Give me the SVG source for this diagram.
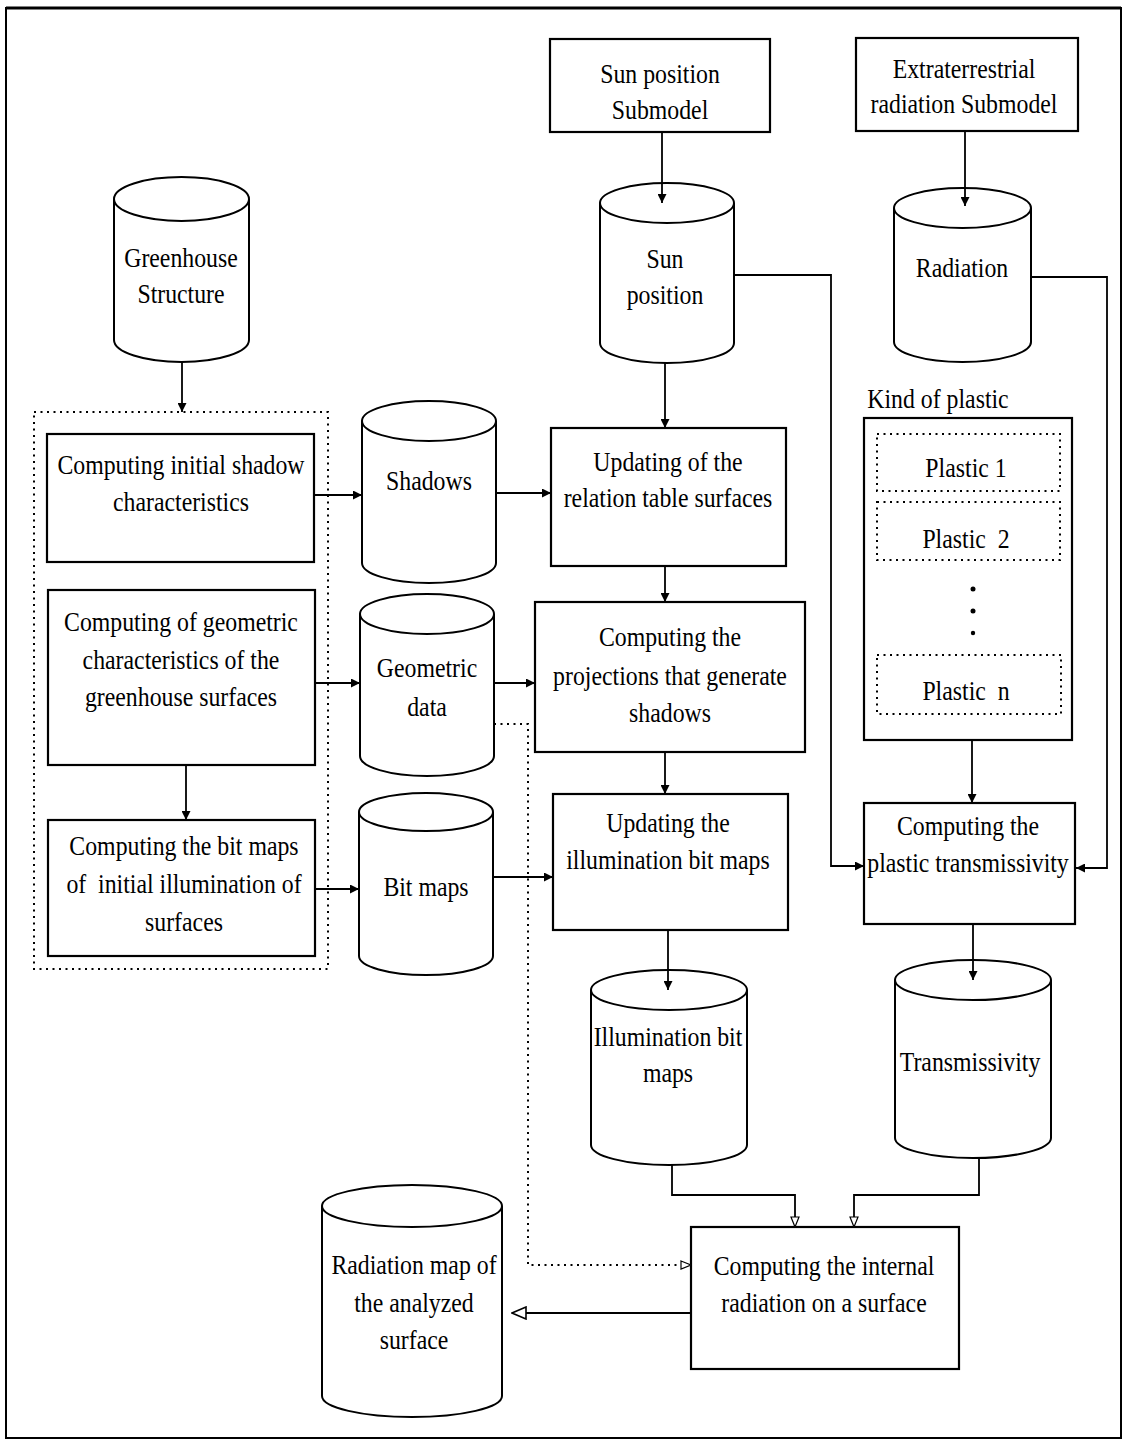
<svg xmlns="http://www.w3.org/2000/svg" width="1128" height="1446" viewBox="0 0 1128 1446">
<defs>
<style>
.bx{fill:#fff;stroke:#000;stroke-width:2.2}
.cyl{fill:#fff;stroke:#000;stroke-width:2}
.dot{fill:none;stroke:#000;stroke-width:2;stroke-dasharray:2 4.5}
.ln{fill:none;stroke:#000;stroke-width:1.8}
.t{font-family:"Liberation Serif","Times New Roman",serif;font-size:28px;fill:#000;text-anchor:middle;white-space:pre}
</style>
<marker id="ah" viewBox="0 0 10 10" refX="10" refY="5" markerWidth="11" markerHeight="9" markerUnits="userSpaceOnUse" orient="auto"><path d="M0,0 L10,5 L0,10 z" fill="#000"/></marker>
<marker id="ho" viewBox="0 0 12 10" refX="11" refY="5" markerWidth="12" markerHeight="10" markerUnits="userSpaceOnUse" orient="auto"><path d="M1,1 L11,5 L1,9 z" fill="#fff" stroke="#000" stroke-width="1.2"/></marker>
<marker id="hb" viewBox="0 0 16 14" refX="15" refY="7" markerWidth="16" markerHeight="14" markerUnits="userSpaceOnUse" orient="auto"><path d="M1,1 L15,7 L1,13 z" fill="#fff" stroke="#000" stroke-width="1.6"/></marker>
</defs>
<rect x="0" y="0" width="1128" height="1446" fill="#fff"/>
<rect x="6" y="8" width="1115" height="1430" fill="none" stroke="#000" stroke-width="2"/>
<line x1="6" y1="8" x2="1121" y2="8" stroke="#000" stroke-width="3"/>

<g id="sun-submodel">
<rect class="bx" x="550" y="39" width="220" height="93"/>
<text class="t" transform="translate(660,83) scale(0.85,1)">Sun position</text>
<text class="t" transform="translate(660,119) scale(0.85,1)">Submodel</text>
</g>
<g id="extra-submodel">
<rect class="bx" x="856" y="38" width="222" height="93"/>
<text class="t" transform="translate(964,78) scale(0.85,1)">Extraterrestrial</text>
<text class="t" transform="translate(964,113) scale(0.85,1)">radiation Submodel</text>
</g>

<g id="greenhouse-structure">
<path class="cyl" d="M114,199 V340 A67.5,22 0 0 0 249,340 V199"/>
<ellipse class="cyl" cx="181.5" cy="199" rx="67.5" ry="22"/>
<text class="t" transform="translate(181,267) scale(0.85,1)">Greenhouse</text>
<text class="t" transform="translate(181,303) scale(0.85,1)">Structure</text>
</g>
<g id="sun-position">
<path class="cyl" d="M600,203 V343 A67,20 0 0 0 734,343 V203"/>
<ellipse class="cyl" cx="667" cy="203" rx="67" ry="20"/>
<text class="t" transform="translate(665,268) scale(0.85,1)">Sun</text>
<text class="t" transform="translate(665,304) scale(0.85,1)">position</text>
</g>
<g id="radiation">
<path class="cyl" d="M894,208 V342 A68.5,20 0 0 0 1031,342 V208"/>
<ellipse class="cyl" cx="962.5" cy="208" rx="68.5" ry="20"/>
<text class="t" transform="translate(962,277) scale(0.85,1)">Radiation</text>
</g>

<g id="initial-group">
<rect class="dot" x="34" y="412" width="294" height="557"/>
</g>
<g id="computing-initial-shadow">
<rect class="bx" x="47" y="434" width="267" height="128"/>
<text class="t" transform="translate(181,474) scale(0.85,1)">Computing initial shadow</text>
<text class="t" transform="translate(181,511) scale(0.85,1)">characteristics</text>
</g>
<g id="computing-geometric">
<rect class="bx" x="48" y="590" width="267" height="175"/>
<text class="t" transform="translate(181,631) scale(0.85,1)">Computing of geometric</text>
<text class="t" transform="translate(181,669) scale(0.85,1)">characteristics of the</text>
<text class="t" transform="translate(181,706) scale(0.85,1)">greenhouse surfaces</text>
</g>
<g id="computing-bitmaps">
<rect class="bx" x="48" y="820" width="267" height="136"/>
<text class="t" transform="translate(184,855) scale(0.85,1)">Computing the bit maps</text>
<text class="t" transform="translate(184,893) scale(0.85,1)">of  initial illumination of</text>
<text class="t" transform="translate(184,931) scale(0.85,1)">surfaces</text>
</g>

<g id="shadows">
<path class="cyl" d="M362,421 V563 A67,20 0 0 0 496,563 V421"/>
<ellipse class="cyl" cx="429" cy="421" rx="67" ry="20"/>
<text class="t" transform="translate(429,490) scale(0.85,1)">Shadows</text>
</g>
<g id="geometric-data">
<path class="cyl" d="M360,614 V756 A67,20 0 0 0 494,756 V614"/>
<ellipse class="cyl" cx="427" cy="614" rx="67" ry="20"/>
<text class="t" transform="translate(427,677) scale(0.85,1)">Geometric</text>
<text class="t" transform="translate(427,716) scale(0.85,1)">data</text>
</g>
<g id="bit-maps">
<path class="cyl" d="M359,812 V956 A67,19 0 0 0 493,956 V812"/>
<ellipse class="cyl" cx="426" cy="812" rx="67" ry="19"/>
<text class="t" transform="translate(426,896) scale(0.85,1)">Bit maps</text>
</g>

<g id="updating-relation">
<rect class="bx" x="551" y="428" width="235" height="138"/>
<text class="t" transform="translate(668,471) scale(0.85,1)">Updating of the</text>
<text class="t" transform="translate(668,507) scale(0.85,1)">relation table surfaces</text>
</g>
<g id="computing-projections">
<rect class="bx" x="535" y="602" width="270" height="150"/>
<text class="t" transform="translate(670,646) scale(0.85,1)">Computing the</text>
<text class="t" transform="translate(670,685) scale(0.85,1)">projections that generate</text>
<text class="t" transform="translate(670,722) scale(0.85,1)">shadows</text>
</g>
<g id="updating-illumination">
<rect class="bx" x="553" y="794" width="235" height="136"/>
<text class="t" transform="translate(668,832) scale(0.85,1)">Updating the</text>
<text class="t" transform="translate(668,869) scale(0.85,1)">illumination bit maps</text>
</g>

<g id="kind-of-plastic">
<text class="t" transform="translate(938,408) scale(0.85,1)">Kind of plastic</text>
<rect class="bx" x="864" y="418" width="208" height="322"/>
<rect class="dot" x="877" y="434" width="183" height="57"/>
<text class="t" transform="translate(966,477) scale(0.85,1)">Plastic 1</text>
<rect class="dot" x="877" y="502" width="183" height="58"/>
<text class="t" transform="translate(966,548) scale(0.85,1)">Plastic  2</text>
<circle cx="973" cy="589" r="2.5" fill="#000"/>
<circle cx="973" cy="611" r="2.5" fill="#000"/>
<circle cx="973" cy="633" r="2.2" fill="#000"/>
<rect class="dot" x="877" y="655" width="184" height="59"/>
<text class="t" transform="translate(966,700) scale(0.85,1)">Plastic  n</text>
</g>

<g id="computing-transmissivity">
<rect class="bx" x="864" y="803" width="211" height="121"/>
<text class="t" transform="translate(968,835) scale(0.85,1)">Computing the</text>
<text class="t" transform="translate(968,872) scale(0.85,1)">plastic transmissivity</text>
</g>

<g id="illumination-bit-maps">
<path class="cyl" d="M591,990 V1145 A78,20 0 0 0 747,1145 V990"/>
<ellipse class="cyl" cx="669" cy="990" rx="78" ry="20"/>
<text class="t" transform="translate(668,1046) scale(0.85,1)">Illumination bit</text>
<text class="t" transform="translate(668,1082) scale(0.85,1)">maps</text>
</g>
<g id="transmissivity">
<path class="cyl" d="M895,980 V1138 A78,20 0 0 0 1051,1138 V980"/>
<ellipse class="cyl" cx="973" cy="980" rx="78" ry="20"/>
<text class="t" transform="translate(970,1071) scale(0.85,1)">Transmissivity</text>
</g>

<g id="computing-internal">
<rect class="bx" x="691" y="1227" width="268" height="142"/>
<text class="t" transform="translate(824,1275) scale(0.85,1)">Computing the internal</text>
<text class="t" transform="translate(824,1312) scale(0.85,1)">radiation on a surface</text>
</g>
<g id="radiation-map">
<path class="cyl" d="M322,1206 V1396 A90,21 0 0 0 502,1396 V1206"/>
<ellipse class="cyl" cx="412" cy="1206" rx="90" ry="21"/>
<text class="t" transform="translate(414,1274) scale(0.85,1)">Radiation map of</text>
<text class="t" transform="translate(414,1312) scale(0.85,1)">the analyzed</text>
<text class="t" transform="translate(414,1349) scale(0.85,1)">surface</text>
</g>

<g id="connectors">
<path class="ln" d="M662,132 V203" marker-end="url(#ah)"/>
<path class="ln" d="M965,131 V206" marker-end="url(#ah)"/>
<path class="ln" d="M734,275 H831 V866 H864" marker-end="url(#ah)"/>
<path class="ln" d="M1031,277 H1107 V868 H1076" marker-end="url(#ah)" stroke-width="2.4"/>
<path class="ln" d="M665,363 V428" marker-end="url(#ah)"/>
<path class="ln" d="M182,362 V412" marker-end="url(#ah)"/>
<path class="ln" d="M314,495 H362" marker-end="url(#ah)"/>
<path class="ln" d="M496,493 H551" marker-end="url(#ah)"/>
<path class="ln" d="M315,683 H360" marker-end="url(#ah)"/>
<path class="ln" d="M494,683 H535" marker-end="url(#ah)"/>
<path class="ln" d="M186,765 V820" marker-end="url(#ah)"/>
<path class="ln" d="M315,889 H359" marker-end="url(#ah)"/>
<path class="ln" d="M493,877 H553" marker-end="url(#ah)"/>
<path class="ln" d="M665,566 V602" marker-end="url(#ah)"/>
<path class="ln" d="M665,752 V794" marker-end="url(#ah)"/>
<path class="ln" d="M668,930 V990" marker-end="url(#ah)"/>
<path class="ln" d="M972,740 V803" marker-end="url(#ah)"/>
<path class="ln" d="M973,924 V980" marker-end="url(#ah)"/>
<path class="ln" d="M672,1165 V1195 H795 V1227" marker-end="url(#ho)"/>
<path class="ln" d="M979,1158 V1195 H854 V1227" marker-end="url(#ho)"/>
<path class="dot" d="M494,724 H528 V1265 H691" marker-end="url(#ho)"/>
<path class="ln" d="M691,1313 H512" stroke-width="3.5" marker-end="url(#hb)"/>
</g>
</svg>
